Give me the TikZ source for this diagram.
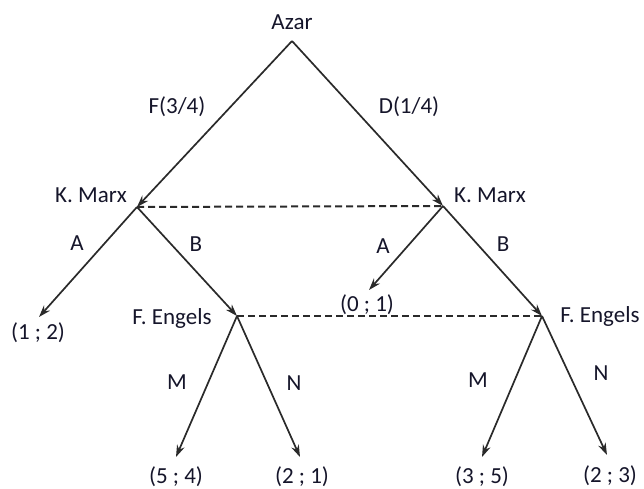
\documentclass[tikz,border=0pt]{standalone}
\usepackage{fontspec}
\setmainfont{Carlito}
\usetikzlibrary{arrows.meta}
\definecolor{ln}{HTML}{2A2A2A}
\definecolor{tx}{HTML}{15152A}
\tikzset{
  lbl/.style={inner sep=0pt, text=tx, font=\fontsize{23}{25}\selectfont},
  br/.style={draw=ln, line width=1.7pt, -{Stealth[length=12pt,width=8pt]}},
  info/.style={draw=ln, line width=2pt, dash pattern=on 7pt off 4pt},
}
\begin{document}
\begin{tikzpicture}[x=1pt,y=-1pt]
\useasboundingbox (0,0) rectangle (644,489);
% decision points
\coordinate (root) at (292,41);
\coordinate (km1) at (137,207);
\coordinate (km2) at (443,206);
\coordinate (fe1) at (237,316);
\coordinate (fe2) at (542,316);
% leaf tips
\coordinate (t12) at (39,317);
\coordinate (t01) at (369,290);
\coordinate (t54) at (176,457);
\coordinate (t21) at (300,457);
\coordinate (t35) at (482,457);
\coordinate (t23) at (607,455);
% texts
\node[lbl] (azar) at (292,22) {Azar};
\node[lbl] (km1t) at (91,195) {K. Marx};
\node[lbl] (km2t) at (490,195) {K. Marx};
\node[lbl] (fe1t) at (172,318) {F. Engels};
\node[lbl] (fe2t) at (600,316) {F. Engels};
\node[lbl] (pF) at (177,107) {F(3/4)};
\node[lbl] (pD) at (409,107) {D(1/4)};
\node[lbl] (la1) at (77,243) {A};
\node[lbl] (lb1) at (196,244) {B};
\node[lbl] (la2) at (383,246) {A};
\node[lbl] (lb2) at (503,244) {B};
\node[lbl] (lm1) at (177,382) {M};
\node[lbl] (ln1) at (294,383) {N};
\node[lbl] (lm2) at (478,380) {M};
\node[lbl] (ln2) at (601,373) {N};
\node[lbl] (v12) at (38,333) {(1 ; 2)};
\node[lbl] (v01) at (367,305) {(0 ; 1)};
\node[lbl] (v54) at (176,477) {(5 ; 4)};
\node[lbl] (v21) at (302,477) {(2 ; 1)};
\node[lbl] (v35) at (482,477) {(3 ; 5)};
\node[lbl] (v23) at (610,476) {(2 ; 3)};
% branches
\draw[br] (root) -- (km1);
\draw[br] (root) -- (km2);
\draw[br] (km1) -- (t12);
\draw[br] (km1) -- (fe1);
\draw[br] (km2) -- (t01);
\draw[br] (km2) -- (fe2);
\draw[br] (fe1) -- (t54);
\draw[br] (fe1) -- (t21);
\draw[br] (fe2) -- (t35);
\draw[br] (fe2) -- (t23);
% information sets
\draw[info] (km1) -- (km2);
\draw[info] (fe1) -- (fe2);
\end{tikzpicture}
\end{document}
